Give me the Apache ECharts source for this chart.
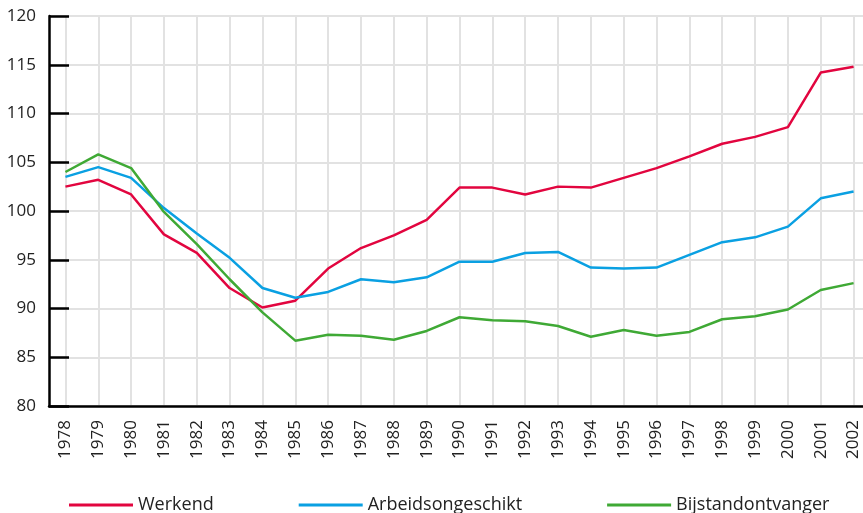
<!DOCTYPE html>
<html>
<head>
<meta charset="utf-8">
<script src="https://cdn.jsdelivr.net/npm/echarts@6/dist/echarts.min.js"></script>
<style>
  html, body { margin: 0; padding: 0; background: #fff; }
  #chart { width: 863px; height: 513px; }
</style>
</head>
<body>
<div id="chart"></div>
<script>
const years = ['1978', '1979', '1980', '1981', '1982', '1983', '1984', '1985', '1986', '1987',
    '1988', '1989', '1990', '1991', '1992', '1993', '1994', '1995', '1996', '1997',
    '1998', '1999', '2000', '2001', '2002'];

const werkend = [102.5, 103.2, 101.7, 97.6, 95.7, 92.1, 90.1, 90.8, 94.1, 96.2,
    97.5, 99.1, 102.4, 102.4, 101.7, 102.5, 102.4, 103.4, 104.4, 105.6,
    106.9, 107.6, 108.6, 114.2, 114.8];

const arbeidsongeschikt = [103.5, 104.5, 103.4, 100.3, 97.7, 95.2, 92.1, 91.1, 91.7, 93.0,
    92.7, 93.2, 94.8, 94.8, 95.7, 95.8, 94.2, 94.1, 94.2, 95.5,
    96.8, 97.3, 98.4, 101.3, 102.0];

const bijstand = [104.0, 105.8, 104.4, 99.9, 96.6, 93.0, 89.6, 86.7, 87.3, 87.2,
    86.8, 87.7, 89.1, 88.8, 88.7, 88.2, 87.1, 87.8, 87.2, 87.6,
    88.9, 89.2, 89.9, 91.9, 92.6];

const seriesNames = ['Werkend', 'Arbeidsongeschikt', 'Bijstandontvanger'];
const seriesColors = ['#e2053f', '#0aa0e2', '#3fa935'];

const chart = echarts.init(document.getElementById('chart'));

function makeLine(name, data, color) {
    return {
        name: name,
        type: 'line',
        data: data,
        symbol: 'none',
        z: 4,
        lineStyle: { color: color, width: 2.5 },
        itemStyle: { color: color }
    };
}

const gridColor = '#e2e2e2';
const textFont = '"Open Sans", "Noto Sans", sans-serif';

// verticale rasterlijnen op elk jaartal
const yearGrid = {
    name: 'raster',
    type: 'line',
    data: [],
    z: 1,
    silent: true,
    markLine: {
        z: 1,
        silent: true,
        symbol: 'none',
        animation: false,
        label: { show: false },
        emphasis: { disabled: true },
        lineStyle: { color: gridColor, width: 2, type: 'solid', opacity: 1 },
        data: years.map(y => ({ xAxis: y }))
    }
};

chart.setOption({
    animation: false,
    textStyle: { fontFamily: textFont },
    grid: { left: 49, top: 16, bottom: 107, width: 821, outerBoundsMode: 'none', containLabel: false },
    legend: {
        data: seriesNames.map(n => ({ name: n, icon: 'path://M0,0 L64,0 L64,3 L0,3 Z' })),
        left: 64,
        top: 491,
        itemWidth: 64,
        itemHeight: 3,
        itemGap: 85,
        textStyle: { fontSize: 18, color: '#222', fontFamily: textFont }
    },
    xAxis: {
        type: 'category',
        data: years,
        z: 2,
        boundaryGap: true,
        axisLine: { lineStyle: { color: '#000', width: 2.5 } },
        axisTick: { inside: true, alignWithLabel: true, length: 10, lineStyle: { color: '#000', width: 2 } },
        axisLabel: { rotate: 90, fontSize: 17, color: '#222', margin: 14, interval: 0 },
        splitLine: { show: false }
    },
    yAxis: {
        type: 'value',
        min: 80,
        max: 120,
        interval: 5,
        z: 2,
        axisLine: { show: true, lineStyle: { color: '#000', width: 2.5 } },
        axisTick: { show: true, inside: true, length: 20, lineStyle: { color: '#000', width: 2.5 } },
        axisLabel: { fontSize: 17, color: '#222', margin: 13 },
        splitLine: { show: true, lineStyle: { color: gridColor, width: 2, type: 'solid' } }
    },
    series: [
        yearGrid,
        makeLine(seriesNames[0], werkend, seriesColors[0]),
        makeLine(seriesNames[1], arbeidsongeschikt, seriesColors[1]),
        makeLine(seriesNames[2], bijstand, seriesColors[2])
    ]
});
</script>
</body>
</html>
